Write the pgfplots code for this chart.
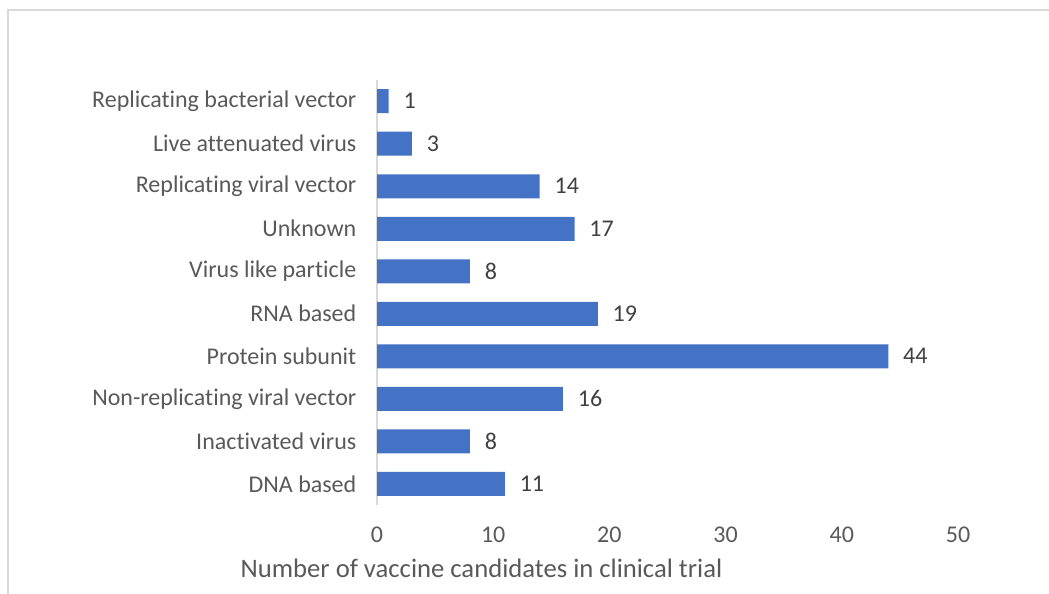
\documentclass[border=0pt]{standalone}
\usepackage{pgfplots}
\pgfplotsset{compat=1.18}
\usepackage{fontspec}
\setmainfont{Carlito}[Ligatures=CommonOff]
\definecolor{barblue}{HTML}{4472C4}
\definecolor{ticktext}{HTML}{595959}
\definecolor{valtext}{HTML}{404040}
\definecolor{frame}{HTML}{D9D9D9}
\begin{document}
\begin{tikzpicture}
% page area and outer chart frame
\useasboundingbox (0,0) rectangle (786.75pt,-444.75pt);
\draw[frame, line width=1.2pt] (6pt,-7.5pt) rectangle (820pt,-480pt);
\begin{axis}[
  at={(282.75pt,-378.75pt)}, anchor=south west,
  scale only axis, width=435.75pt, height=318.75pt,
  xbar, bar width=18pt,
  xmin=0, xmax=50, ymin=-0.5, ymax=9.5,
  xtick={0,10,20,30,40,50},
  ytick={0,...,9},
  yticklabels={DNA based, Inactivated virus, Non-replicating viral vector,
    Protein subunit, RNA based, Virus like particle, Unknown,
    Replicating viral vector, Live attenuated virus, Replicating bacterial vector},
  axis x line*=bottom, axis y line*=left,
  x axis line style={draw=none},
  y axis line style={draw=frame, line width=1.2pt},
  major tick length=0pt,
  tick label style={font=\fontsize{18}{21}\selectfont, text=ticktext},
  xticklabel style={yshift=-13pt},
  yticklabel style={xshift=-12pt},
  /pgf/number format/assume math mode=true,
  nodes near coords,
  nodes near coords style={anchor=west, xshift=11pt, inner sep=0pt,
    font=\fontsize{18}{21}\selectfont, text=valtext},
]
\addplot[fill=barblue, draw=none] coordinates {
  (11,0) (8,1) (16,2) (44,3) (19,4) (8,5) (17,6) (14,7) (3,8) (1,9)
};
\end{axis}
\node[text=ticktext, font=\fontsize{20}{24}\selectfont] at (361.1pt,-426pt)
  {Number of vaccine candidates in clinical trial};
\end{tikzpicture}
\end{document}
